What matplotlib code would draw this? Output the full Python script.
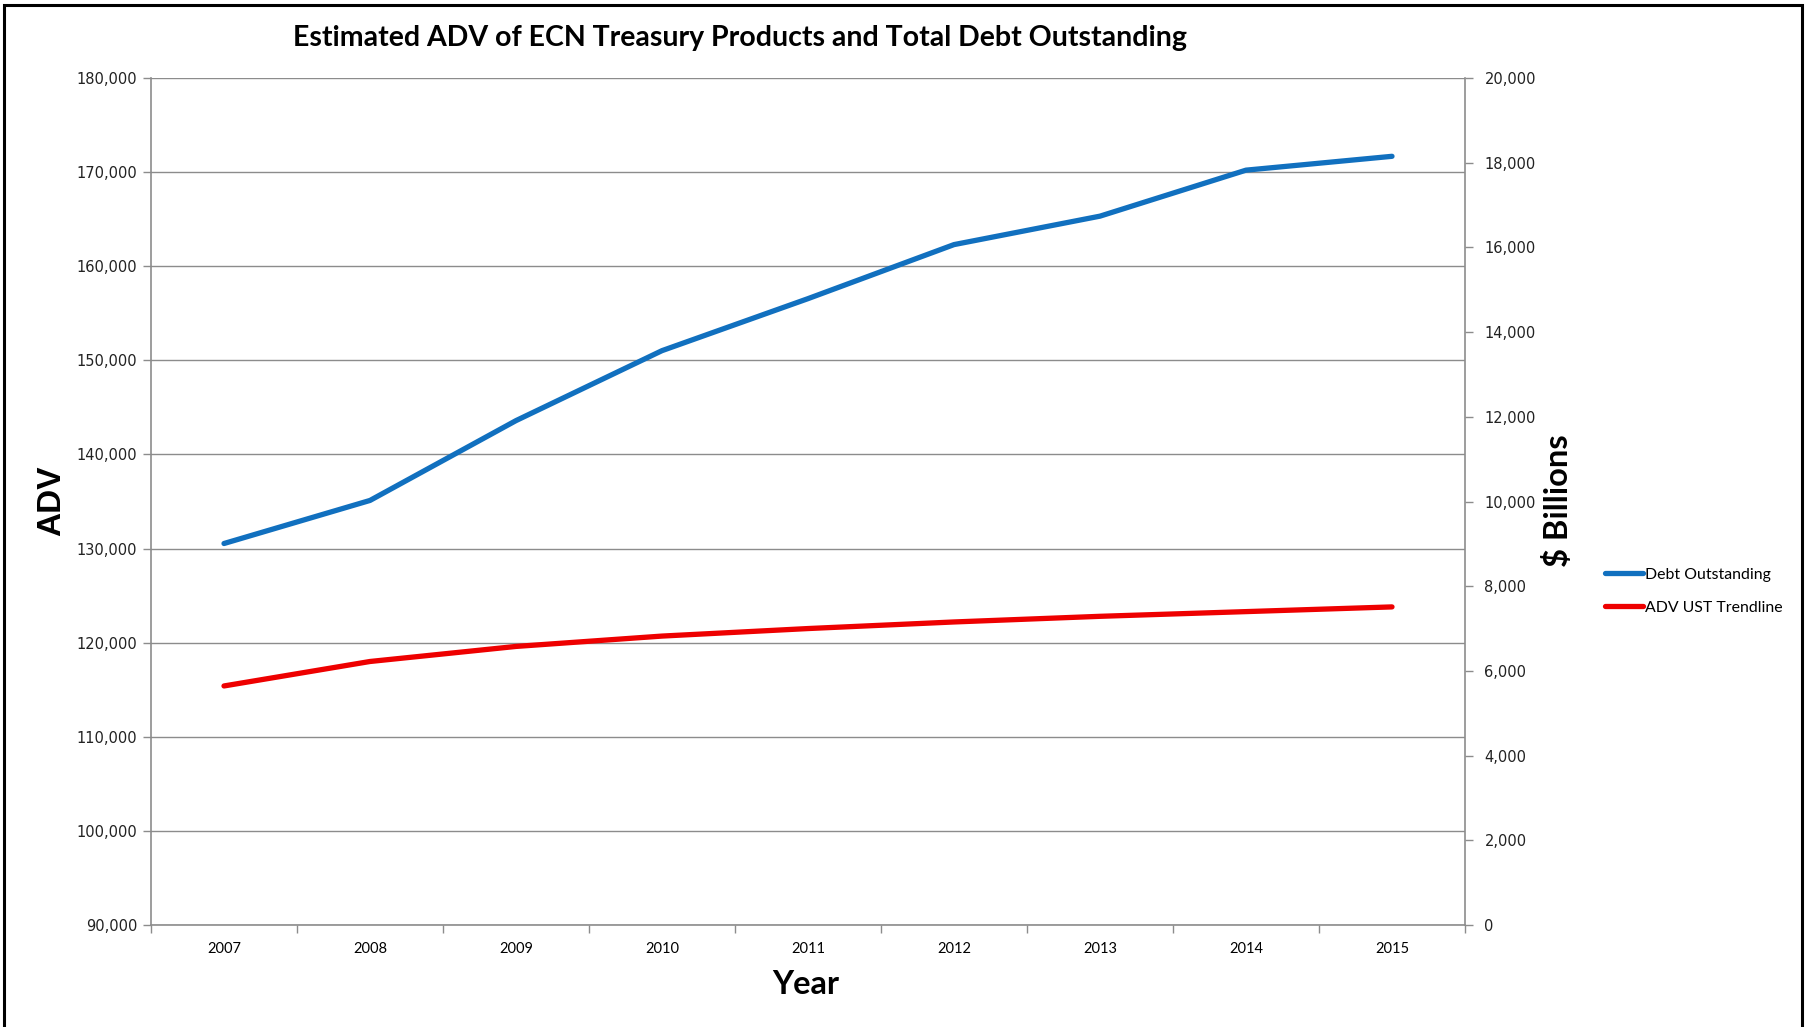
import matplotlib.pyplot as plt
from matplotlib.patches import Rectangle
from matplotlib.ticker import FuncFormatter, MultipleLocator, FixedLocator

years = ["2007", "2008", "2009", "2010", "2011", "2012", "2013", "2014", "2015"]
# total debt outstanding, $ billions (right axis)
debt_outstanding = [9008, 10025, 11910, 13562, 14790, 16066, 16738, 17824, 18151]
# ADV trendline for UST on ECNs (left axis)
adv_trendline = [115400, 118000, 119600, 120700, 121500, 122200, 122800, 123300, 123800]

W, H = 1806, 1027
fig = plt.figure(figsize=(W / 100, H / 100), dpi=100)

# black frame, open at the bottom
fig.patches.append(Rectangle((4 / W, -0.05), (W - 8) / W, 1.05 - 5 / H,
                             transform=fig.transFigure, fill=False,
                             edgecolor="black", linewidth=2.2))

left, right, top, bottom = 151, 1465, 78, 925
ax = fig.add_axes([left / W, 1 - bottom / H, (right - left) / W, (bottom - top) / H])
ax2 = ax.twinx()

grey = "#8c8c8c"
x = list(range(len(years)))

ax2.plot(x, debt_outstanding, color="#1170bf", linewidth=3.8,
         solid_capstyle="round", label="Debt Outstanding", zorder=3)
ax.plot(x, adv_trendline, color="#ee0000", linewidth=3.8,
        solid_capstyle="round", label="ADV UST Trendline", zorder=3)

ax.set_xlim(-0.5, len(years) - 0.5)
ax.set_ylim(90000, 180000)
ax2.set_ylim(0, 20000)

ax.yaxis.set_major_locator(MultipleLocator(10000))
ax2.yaxis.set_major_locator(MultipleLocator(2000))
fmt = FuncFormatter(lambda v, p: f"{v:,.0f}")
ax.yaxis.set_major_formatter(fmt)
ax2.yaxis.set_major_formatter(fmt)

# category axis: labels centred, tick marks between categories
ax.set_xticks(x)
ax.set_xticklabels(years, fontfamily="Lato", fontsize=10.5)
ax.xaxis.set_minor_locator(FixedLocator([i - 0.5 for i in range(len(years) + 1)]))
ax.tick_params(axis="x", which="major", length=0, pad=12)
ax.tick_params(axis="x", which="minor", length=6, color=grey, width=1)

ax.tick_params(axis="y", length=6, color=grey, width=1, labelsize=10.5, pad=4)
ax2.tick_params(axis="y", length=6, color=grey, width=1, labelsize=10.5, pad=8)
for lab in ax.get_yticklabels() + ax2.get_yticklabels():
    lab.set_color("#222222")

ax.grid(axis="y", color=grey, linewidth=1)
ax.set_axisbelow(True)

for a in (ax, ax2):
    for s in a.spines.values():
        s.set_visible(False)
ax.spines["left"].set_visible(True)
ax.spines["bottom"].set_visible(True)
ax2.spines["right"].set_visible(True)
for s in (ax.spines["left"], ax.spines["bottom"], ax2.spines["right"]):
    s.set_color(grey)
    s.set_linewidth(1.2)

fig.text(740 / W, 1 - 38 / H, "Estimated ADV of ECN Treasury Products and Total Debt Outstanding",
         ha="center", va="center", fontsize=20.5, fontweight="bold", family="Lato")
fig.text(52 / W, 1 - 501 / H, "ADV", rotation=90, ha="center", va="center",
         fontsize=24, fontweight="bold", family="Liberation Sans")
fig.text(1558 / W, 1 - 501 / H, "$ Billions", rotation=90, ha="center", va="center",
         fontsize=23.5, fontweight="bold", family="Lato")
fig.text(806 / W, 1 - 985 / H, "Year", ha="center", va="center",
         fontsize=23.5, fontweight="bold", family="Lato")

handles = ax2.get_lines() + ax.get_lines()
fig.legend(handles, [h.get_label() for h in handles], loc="center left",
           bbox_to_anchor=(1605 / W, 1 - 591 / H), frameon=False,
           prop={"family": "Lato", "size": 11.4}, handlelength=2.4,
           handletextpad=0.1, borderpad=0, borderaxespad=0, labelspacing=1.2)

fig.savefig("out.png", dpi=100)
